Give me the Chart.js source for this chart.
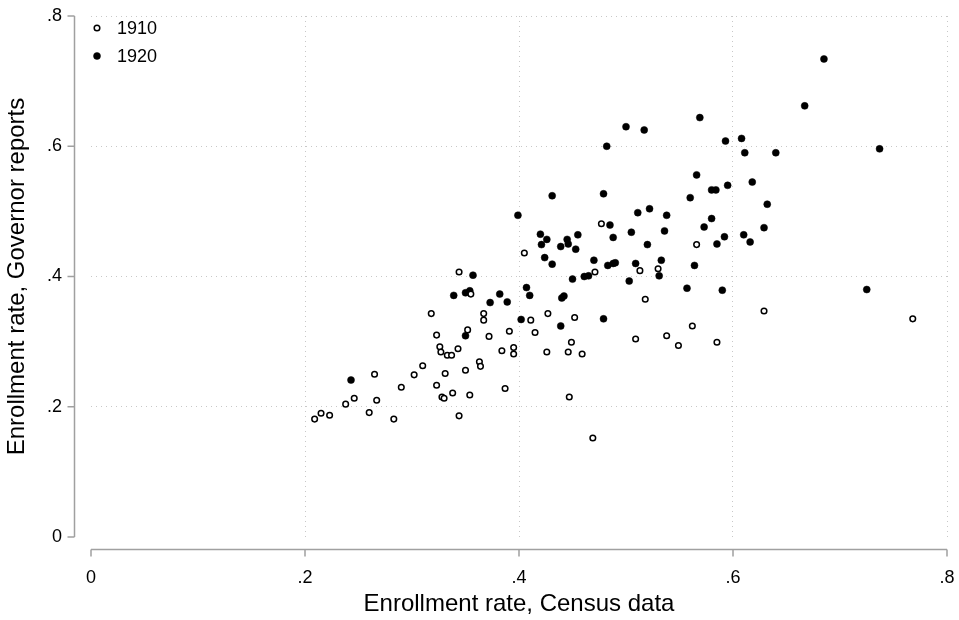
<!DOCTYPE html>
<html>
<head>
<meta charset="utf-8">
<script src="https://cdn.jsdelivr.net/npm/chart.js@4.4.1/dist/chart.umd.min.js"></script>
<style>
  html, body { margin: 0; padding: 0; background: #fff; }
</style>
</head>
<body>
<canvas id="chart" width="959" height="620"></canvas>
<script>
// Ticks (same for both axes)
const TICKS = [0, 0.2, 0.4, 0.6, 0.8];
const TICK_LABELS = ['0', '.2', '.4', '.6', '.8'];

const SERIES_NAMES = ['1910', '1920'];

// 1910 (hollow markers)
const X_1910 = [0.209,0.215,0.223,0.238,0.246,0.265,0.267,0.260,0.283,0.290,0.302,0.310,0.323,0.331,0.328,0.330,0.338,0.344,0.344,0.318,0.323,0.326,0.327,0.333,0.337,0.343,0.355,0.367,0.367,0.352,0.372,0.391,0.411,0.415,0.427,0.452,0.384,0.395,0.395,0.426,0.446,0.449,0.459,0.363,0.364,0.350,0.354,0.387,0.447,0.469,0.405,0.477,0.471,0.513,0.530,0.566,0.518,0.629,0.562,0.509,0.538,0.549,0.585,0.768];
const Y_1910 = [0.181,0.190,0.187,0.204,0.213,0.250,0.210,0.191,0.181,0.230,0.249,0.263,0.233,0.251,0.215,0.213,0.221,0.186,0.407,0.343,0.310,0.292,0.284,0.279,0.279,0.289,0.373,0.343,0.333,0.318,0.308,0.316,0.333,0.314,0.343,0.337,0.286,0.291,0.281,0.284,0.284,0.299,0.281,0.269,0.262,0.256,0.218,0.228,0.215,0.152,0.436,0.481,0.407,0.409,0.412,0.449,0.365,0.347,0.324,0.304,0.309,0.294,0.299,0.335];

// 1920 (filled markers)
const X_1920 = [0.243,0.339,0.350,0.354,0.357,0.373,0.382,0.389,0.402,0.407,0.410,0.431,0.450,0.461,0.465,0.440,0.442,0.439,0.431,0.399,0.420,0.426,0.421,0.445,0.446,0.439,0.455,0.453,0.424,0.470,0.500,0.517,0.482,0.569,0.593,0.608,0.611,0.566,0.618,0.479,0.560,0.580,0.584,0.595,0.632,0.511,0.522,0.538,0.485,0.488,0.505,0.520,0.536,0.580,0.573,0.592,0.585,0.610,0.616,0.629,0.483,0.488,0.490,0.509,0.533,0.531,0.503,0.564,0.557,0.590,0.479,0.685,0.667,0.640,0.737,0.725,0.350];
const Y_1920 = [0.241,0.371,0.375,0.378,0.402,0.360,0.373,0.361,0.334,0.383,0.371,0.419,0.396,0.400,0.401,0.367,0.370,0.324,0.524,0.494,0.465,0.457,0.449,0.457,0.450,0.446,0.464,0.442,0.429,0.425,0.630,0.625,0.600,0.644,0.608,0.612,0.590,0.556,0.545,0.527,0.521,0.533,0.533,0.540,0.511,0.498,0.504,0.494,0.479,0.460,0.468,0.449,0.470,0.489,0.476,0.461,0.450,0.464,0.453,0.475,0.417,0.420,0.421,0.420,0.425,0.401,0.393,0.417,0.382,0.379,0.335,0.734,0.662,0.590,0.596,0.380,0.309];

const FONT = '"Liberation Sans", Arial, sans-serif';

function toPoints(xs, ys) {
  return xs.map((x, i) => ({ x: x, y: ys[i] }));
}

// eixos deslocados estilo Stata + legenda dentro do grafico
const stataAxes = {
  id: 'stataAxes',
  afterDraw(chart) {
    const { ctx, chartArea, scales: { x, y } } = chart;
    const ax = chartArea.left - 16.5;
    const ay = chartArea.bottom + 12.5;
    ctx.save();
    ctx.strokeStyle = '#a0a0a0';
    ctx.lineWidth = 1.5;
    ctx.beginPath();
    ctx.moveTo(ax, y.getPixelForValue(TICKS[TICKS.length - 1]));
    ctx.lineTo(ax, y.getPixelForValue(TICKS[0]));
    TICKS.forEach(v => {
      const p = y.getPixelForValue(v);
      ctx.moveTo(ax, p);
      ctx.lineTo(ax - 7, p);
    });
    ctx.moveTo(x.getPixelForValue(TICKS[0]), ay);
    ctx.lineTo(x.getPixelForValue(TICKS[TICKS.length - 1]), ay);
    TICKS.forEach(v => {
      const p = x.getPixelForValue(v);
      ctx.moveTo(p, ay);
      ctx.lineTo(p, ay + 7);
    });
    ctx.stroke();

    // legenda
    const lx = chartArea.left + 6;
    const rows = [chartArea.top + 12, chartArea.top + 40];
    chart.data.datasets.forEach((ds, i) => {
      const cy = rows[i];
      ctx.beginPath();
      ctx.arc(lx, cy, ds.pointRadius, 0, Math.PI * 2);
      ctx.fillStyle = ds.pointBackgroundColor;
      ctx.fill();
      ctx.lineWidth = ds.pointBorderWidth;
      ctx.strokeStyle = ds.pointBorderColor;
      ctx.stroke();
      ctx.fillStyle = '#000';
      ctx.font = '18px ' + FONT;
      ctx.textBaseline = 'middle';
      ctx.textAlign = 'left';
      ctx.fillText(ds.label, lx + 20, cy + 1);
    });
    ctx.restore();
  }
};

function axisOptions(titleText, isX) {
  return {
    type: 'linear',
    min: TICKS[0],
    max: TICKS[TICKS.length - 1],
    afterBuildTicks: s => { s.ticks = TICKS.map(v => ({ value: v })); },
    afterFit: s => {
      if (isX) s.height = 83;
      else s.width = 91;
      // sem folga extra para os rotulos: a area do grafico vem so do layout.padding
      s.paddingLeft = s.paddingRight = s.paddingTop = s.paddingBottom = 0;
    },
    ticks: {
      padding: isX ? 30 : 29,
      color: '#000',
      font: { family: FONT, size: 18 },
      callback: v => TICK_LABELS[TICKS.indexOf(v)]
    },
    grid: {
      drawTicks: false,
      lineWidth: 1,
      color: c => (c.tick && c.tick.value === 0) ? 'rgba(0,0,0,0)' : '#c8c8c8'
    },
    border: { display: false, dash: [1, 4] },
    title: {
      display: true,
      text: titleText,
      color: '#000',
      font: { family: FONT, size: 24 },
      padding: isX ? { top: 0, bottom: 1 } : { top: 3, bottom: 0 }
    }
  };
}

new Chart(document.getElementById('chart'), {
  type: 'scatter',
  data: {
    datasets: [
      {
        label: SERIES_NAMES[0],
        data: toPoints(X_1910, Y_1910),
        pointRadius: 2.8,
        pointBorderWidth: 1.5,
        pointBorderColor: '#000',
        pointBackgroundColor: '#fff'
      },
      {
        label: SERIES_NAMES[1],
        data: toPoints(X_1920, Y_1920),
        pointRadius: 3.5,
        pointBorderWidth: 0.5,
        pointBorderColor: '#000',
        pointBackgroundColor: '#000'
      }
    ]
  },
  options: {
    responsive: false,
    animation: false,
    layout: { padding: { top: 16, right: 12, left: 0, bottom: 0 } },
    plugins: {
      legend: { display: false },
      tooltip: { enabled: false }
    },
    scales: {
      x: axisOptions('Enrollment rate, Census data', true),
      y: axisOptions('Enrollment rate, Governor reports', false)
    }
  },
  plugins: [stataAxes]
});
</script>
</body>
</html>
